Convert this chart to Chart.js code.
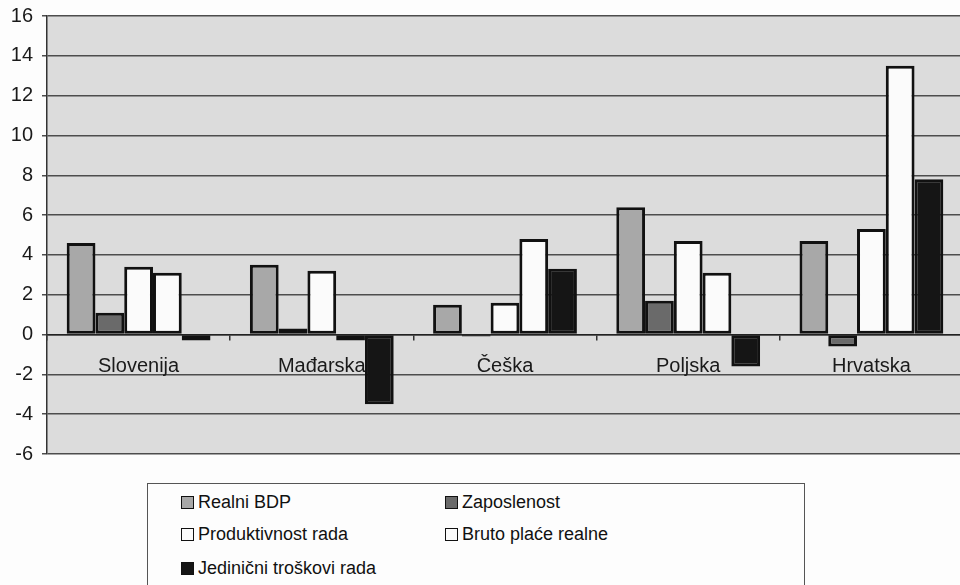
<!DOCTYPE html>
<html>
<head>
<meta charset="utf-8">
<script src="https://cdn.jsdelivr.net/npm/chart.js@4/dist/chart.umd.min.js"></script>
<style>
    html, body { margin: 0; padding: 0; background: #fdfdfd; overflow: hidden; }
    .chart-wrap { position: absolute; left: 0; top: 0; width: 966px; height: 470px; }
    .legend-box {
        position: absolute; left: 147px; top: 483px; width: 658px; height: 120px;
        border: 1px solid #555; box-sizing: border-box;
        font-family: "Liberation Sans", Arial, sans-serif; font-size: 18px; color: #111;
    }
    .legend-item { position: absolute; display: flex; align-items: center; white-space: nowrap; }
    .legend-swatch { width: 11px; height: 11px; border: 1.5px solid #111; margin-right: 4px; }
</style>
</head>
<body>
<div class="chart-wrap"><canvas id="chart"></canvas></div>
<div class="legend-box" id="legend"></div>
<script>
const categories = ['Slovenija', 'Mađarska', 'Češka', 'Poljska', 'Hrvatska'];
const realniBdp = [4.6, 3.5, 1.5, 6.4, 4.7];
const zaposlenost = [1.1, 0.3, -0.1, 1.7, -0.6];
const produktivnost = [3.4, 3.2, 1.6, 4.7, 5.3];
const brutoPlace = [3.1, -0.3, 4.8, 3.1, 13.5];
const jedinicniTroskovi = [-0.3, -3.5, 3.3, -1.6, 7.8];

const seriesNames = ['Realni BDP', 'Zaposlenost', 'Produktivnost rada', 'Bruto plaće realne', 'Jedinični troškovi rada'];
const seriesData = [realniBdp, zaposlenost, produktivnost, brutoPlace, jedinicniTroskovi];
const seriesColors = ['#a8a8a8', '#6a6a6a', '#fbfbfb', '#fbfbfb', '#151515'];

// grey plot area behind the bars
const plotBackground = {
    id: 'plotBackground',
    beforeDraw(chart) {
        const a = chart.chartArea;
        const ctx = chart.ctx;
        ctx.save();
        ctx.fillStyle = '#dcdcdc';
        ctx.fillRect(a.left, a.top, a.right - a.left, a.bottom - a.top);
        ctx.restore();
    }
};

const ctx = document.getElementById('chart').getContext('2d');
const chart = new Chart(ctx, {
    type: 'bar',
    data: {
        labels: categories,
        datasets: seriesNames.map((name, i) => ({
            label: name,
            data: seriesData[i],
            backgroundColor: seriesColors[i],
            borderColor: '#111',
            borderWidth: 3,
            borderSkipped: false,
            categoryPercentage: 0.785,
            barPercentage: 1.0
        }))
    },
    options: {
        responsive: true,
        maintainAspectRatio: false,
        animation: false,
        layout: { padding: { top: 16, right: 3, bottom: 16, left: 0 } },
        plugins: {
            legend: { display: false },
            tooltip: { enabled: false }
        },
        scales: {
            x: {
                position: { y: 0 },
                offset: true,
                grid: {
                    offset: true,
                    drawOnChartArea: false,
                    drawTicks: true,
                    tickLength: 5,
                    color: '#333',
                    lineWidth: 1.5
                },
                border: { display: true, color: '#222', width: 1.5 },
                ticks: {
                    padding: 15,
                    color: '#1a1a1a',
                    font: { family: '"Liberation Sans", Arial, sans-serif', size: 20 }
                }
            },
            y: {
                min: -6,
                max: 16,
                afterFit(scale) {
                    scale.width = 47;
                    scale.paddingTop = 0;
                    scale.paddingBottom = 0;
                },
                grid: {
                    color: '#4d4d4d',
                    lineWidth: 1.5,
                    tickLength: 5
                },
                border: { display: true, color: '#333', width: 1.5 },
                ticks: {
                    stepSize: 2,
                    padding: 9,
                    color: '#1a1a1a',
                    font: { family: '"Liberation Sans", Arial, sans-serif', size: 20 }
                }
            }
        }
    },
    plugins: [plotBackground]
});

// legend in two columns, built from the datasets
const legendEl = document.getElementById('legend');
const legendPos = [[33, 8], [297, 8], [33, 40], [297, 40], [33, 74]];
chart.data.datasets.forEach((ds, i) => {
    const item = document.createElement('div');
    item.className = 'legend-item';
    item.style.left = legendPos[i][0] + 'px';
    item.style.top = legendPos[i][1] + 'px';
    item.innerHTML = `<span class="legend-swatch" style="background:${ds.backgroundColor}"></span>${ds.label}`;
    legendEl.appendChild(item);
});
</script>
</body>
</html>
